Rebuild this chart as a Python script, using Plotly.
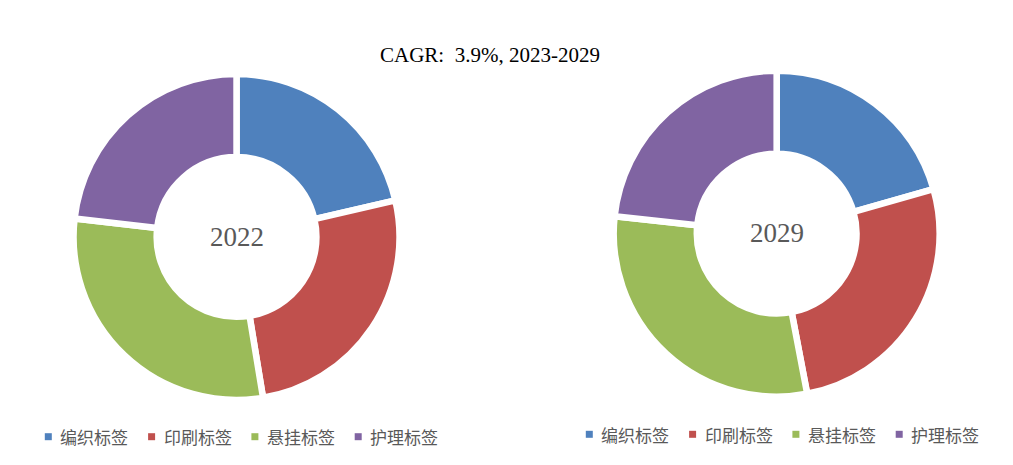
import plotly.graph_objects as go

categories = ["编织标签", "印刷标签", "悬挂标签", "护理标签"]
values_2022 = [21.4, 26.0, 29.4, 23.2]
values_2029 = [20.6, 26.4, 29.7, 23.3]
colors = ["#4F81BD", "#C0504D", "#9BBB59", "#8064A2"]
title_text = "CAGR:  3.9%, 2023-2029"
year_labels = ["2022", "2029"]

W, H = 1013, 465
serif = "Palatino Linotype, Book Antiqua, Palatino, Liberation Serif, Noto Sans CJK SC"
cjk = "Noto Sans CJK SC, SimSun, sans-serif"

fig = go.Figure()
common = dict(
    labels=categories,
    marker=dict(colors=colors, line=dict(color="white", width=6.5)),
    hole=0.49,
    sort=False,
    direction="clockwise",
    rotation=0,
    textinfo="none",
    hoverinfo="label+percent",
    showlegend=False,
)
fig.add_trace(go.Pie(values=values_2022,
                     domain=dict(x=[0.0726, 0.3944], y=[0.1398, 0.8409]), **common))
fig.add_trace(go.Pie(values=values_2029,
                     domain=dict(x=[0.6058, 0.9276], y=[0.1469, 0.8480]), **common))

# manual legends (one under each doughnut)
shapes = []
annotations = []
legend_origins = [(48.3, 436.7), (589.3, 434.3)]  # centre of first marker (px)
step = 103.3
for (mx, my) in legend_origins:
    for i, (lab, col) in enumerate(zip(categories, colors)):
        cx = mx + i * step
        shapes.append(dict(type="rect", xref="paper", yref="paper",
                           x0=(cx - 3.5) / W, x1=(cx + 3.5) / W,
                           y0=1 - (my + 3.5) / H, y1=1 - (my - 3.5) / H,
                           fillcolor=col, line=dict(width=0)))
        annotations.append(dict(text=lab, x=(cx + 10) / W, y=1 - my / H,
                                xref="paper", yref="paper", showarrow=False,
                                xanchor="left", yanchor="middle",
                                font=dict(family=cjk, size=17, color="#595959")))

annotations += [
    dict(text=title_text, x=490 / W, y=1 - 55 / H, xref="paper", yref="paper",
         showarrow=False, font=dict(family=serif, size=21, color="#000000"),
         xanchor="center", yanchor="middle"),
    dict(text=year_labels[0], x=237 / W, y=1 - 237 / H, xref="paper", yref="paper",
         showarrow=False, font=dict(family=serif, size=27, color="#595959"),
         xanchor="center", yanchor="middle"),
    dict(text=year_labels[1], x=777 / W, y=1 - 233 / H, xref="paper", yref="paper",
         showarrow=False, font=dict(family=serif, size=27, color="#595959"),
         xanchor="center", yanchor="middle"),
]

fig.update_layout(
    width=W, height=H,
    margin=dict(l=0, r=0, t=0, b=0),
    paper_bgcolor="white",
    plot_bgcolor="white",
    shapes=shapes,
    annotations=annotations,
)

fig.write_html("out.html")
